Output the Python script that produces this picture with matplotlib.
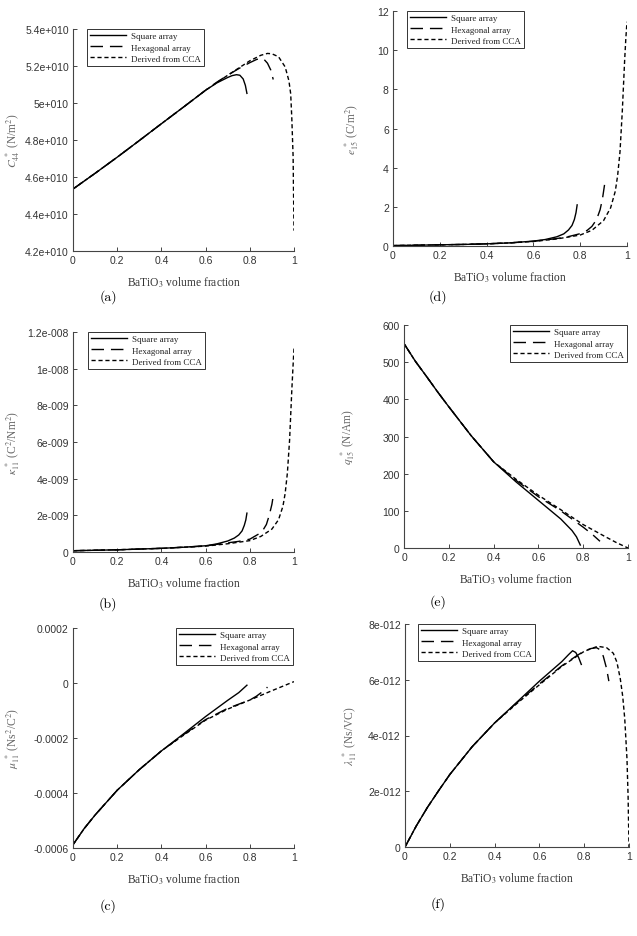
import matplotlib
matplotlib.use("Agg")
import matplotlib.pyplot as plt

plt.rcParams['mathtext.fontset'] = 'stix'

W, H = 637, 937

x_ticks = [0, 0.2, 0.4, 0.6, 0.8, 1]
x_ticklabels = ['0', '0.2', '0.4', '0.6', '0.8', '1']
series_names = ['Square array', 'Hexagonal array', 'Derived from CCA']

# (a) C44*, in units of 1e10 N/m^2
a_sq_x = [0, 0.1, 0.2, 0.3, 0.4, 0.5, 0.6, 0.65, 0.7, 0.72, 0.74, 0.755, 0.77, 0.78, 0.787]
a_sq_y = [4.535, 4.62, 4.707, 4.797, 4.888, 4.978, 5.069, 5.108, 5.138, 5.148, 5.153, 5.15, 5.13, 5.095, 5.052]
a_hx_x = [0, 0.1, 0.2, 0.3, 0.4, 0.5, 0.6, 0.65, 0.7, 0.75, 0.8, 0.83, 0.85, 0.865, 0.88, 0.895, 0.906]
a_hx_y = [4.535, 4.62, 4.707, 4.797, 4.888, 4.978, 5.069, 5.112, 5.15, 5.186, 5.218, 5.235, 5.242, 5.235, 5.215, 5.178, 5.127]
a_cc_x = [0, 0.1, 0.2, 0.3, 0.4, 0.5, 0.6, 0.7, 0.8, 0.85, 0.88, 0.9, 0.93, 0.96, 0.977, 0.985, 0.99, 0.996, 1.0]
a_cc_y = [4.535, 4.62, 4.707, 4.797, 4.888, 4.978, 5.069, 5.15, 5.228, 5.258, 5.268, 5.266, 5.25, 5.195, 5.12, 5.05, 4.92, 4.71, 4.31]
a_yticks = [4.2, 4.4, 4.6, 4.8, 5.0, 5.2, 5.4]
a_yticklabels = ['4.2e+010', '4.4e+010', '4.6e+010', '4.8e+010', '5e+010', '5.2e+010', '5.4e+010']

# (d) e15*, C/m^2
d_sq_x = [0, 0.1, 0.2, 0.3, 0.4, 0.5, 0.6, 0.65, 0.7, 0.73, 0.75, 0.765, 0.775, 0.782, 0.787]
d_sq_y = [0.02, 0.04, 0.06, 0.08, 0.11, 0.16, 0.25, 0.33, 0.47, 0.62, 0.82, 1.05, 1.35, 1.7, 2.1]
d_hx_x = [0, 0.1, 0.2, 0.3, 0.4, 0.5, 0.6, 0.7, 0.75, 0.8, 0.83, 0.85, 0.87, 0.885, 0.895, 0.905]
d_hx_y = [0.02, 0.04, 0.06, 0.08, 0.11, 0.16, 0.24, 0.38, 0.48, 0.63, 0.8, 1.0, 1.35, 1.85, 2.4, 3.2]
d_cc_x = [0, 0.1, 0.2, 0.3, 0.4, 0.5, 0.6, 0.7, 0.8, 0.85, 0.9, 0.93, 0.95, 0.96, 0.97, 0.98, 0.99, 0.995, 1.0]
d_cc_y = [0.02, 0.04, 0.06, 0.08, 0.11, 0.16, 0.23, 0.36, 0.56, 0.8, 1.3, 1.95, 2.8, 3.6, 4.8, 6.9, 9.5, 10.6, 11.45]
d_yticks = [0, 2, 4, 6, 8, 10, 12]
d_yticklabels = ['0', '2', '4', '6', '8', '10', '12']

# (b) kappa11*, in units of 1e-9 C^2/Nm^2
b_sq_x = [0, 0.2, 0.4, 0.5, 0.6, 0.65, 0.7, 0.73, 0.75, 0.765, 0.775, 0.782, 0.787]
b_sq_y = [0.07, 0.12, 0.2, 0.26, 0.34, 0.44, 0.6, 0.76, 0.93, 1.15, 1.45, 1.75, 2.12]
b_hx_x = [0, 0.2, 0.4, 0.5, 0.6, 0.7, 0.75, 0.8, 0.84, 0.86, 0.875, 0.888, 0.9, 0.908]
b_hx_y = [0.07, 0.12, 0.2, 0.26, 0.33, 0.5, 0.58, 0.7, 0.98, 1.2, 1.5, 2.0, 2.6, 3.2]
b_cc_x = [0, 0.2, 0.4, 0.5, 0.6, 0.7, 0.8, 0.85, 0.9, 0.93, 0.95, 0.96, 0.97, 0.98, 0.99, 0.995, 1.0]
b_cc_y = [0.07, 0.12, 0.2, 0.26, 0.32, 0.45, 0.62, 0.85, 1.25, 1.76, 2.5, 3.2, 4.3, 6.1, 8.8, 10.0, 11.1]
b_yticks = [0, 2, 4, 6, 8, 10, 12]
b_yticklabels = ['0', '2e-009', '4e-009', '6e-009', '8e-009', '1e-008', '1.2e-008']

# (e) q15*, N/Am
e_sq_x = [0, 0.05, 0.1, 0.15, 0.2, 0.3, 0.4, 0.5, 0.6, 0.7, 0.75, 0.77, 0.787]
e_sq_y = [550, 503, 462, 420, 380, 302, 232, 178, 128, 78, 47, 30, 8]
e_hx_x = [0, 0.05, 0.1, 0.15, 0.2, 0.3, 0.4, 0.5, 0.6, 0.7, 0.8, 0.84, 0.875]
e_hx_y = [550, 503, 462, 420, 380, 302, 232, 182, 138, 100, 56, 37, 18]
e_cc_x = [0, 0.05, 0.1, 0.15, 0.2, 0.3, 0.4, 0.5, 0.6, 0.7, 0.8, 0.9, 0.95, 1.0]
e_cc_y = [550, 503, 462, 420, 380, 302, 232, 185, 142, 103, 63, 30, 14, 0]
e_yticks = [0, 100, 200, 300, 400, 500, 600]
e_yticklabels = ['0', '100', '200', '300', '400', '500', '600']

# (c) mu11*, in units of 1e-4 Ns^2/C^2
c_sq_x = [0, 0.05, 0.1, 0.2, 0.3, 0.4, 0.5, 0.6, 0.7, 0.75, 0.787]
c_sq_y = [-5.88, -5.3, -4.8, -3.9, -3.15, -2.47, -1.85, -1.22, -0.63, -0.35, -0.08]
c_hx_x = [0, 0.05, 0.1, 0.2, 0.3, 0.4, 0.5, 0.6, 0.7, 0.8, 0.83, 0.86, 0.88]
c_hx_y = [-5.88, -5.3, -4.8, -3.9, -3.15, -2.47, -1.88, -1.33, -0.92, -0.62, -0.48, -0.3, -0.15]
c_cc_x = [0, 0.05, 0.1, 0.2, 0.3, 0.4, 0.5, 0.6, 0.7, 0.8, 0.9, 1.0]
c_cc_y = [-5.88, -5.3, -4.8, -3.9, -3.15, -2.47, -1.9, -1.35, -0.95, -0.62, -0.28, 0.05]
c_yticks = [-6, -4, -2, 0, 2]
c_yticklabels = ['-0.0006', '-0.0004', '-0.0002', '0', '0.0002']

# (f) lambda11*, in units of 1e-12 Ns/VC
f_sq_x = [0, 0.05, 0.1, 0.15, 0.2, 0.3, 0.4, 0.5, 0.6, 0.7, 0.73, 0.748, 0.762, 0.775, 0.787]
f_sq_y = [0, 0.75, 1.42, 2.02, 2.6, 3.6, 4.45, 5.2, 5.95, 6.65, 6.9, 7.04, 6.98, 6.8, 6.55]
f_hx_x = [0, 0.05, 0.1, 0.15, 0.2, 0.3, 0.4, 0.5, 0.6, 0.7, 0.77, 0.8, 0.83, 0.855, 0.87, 0.885, 0.9, 0.91]
f_hx_y = [0, 0.75, 1.42, 2.02, 2.6, 3.6, 4.45, 5.18, 5.85, 6.5, 6.88, 7.03, 7.12, 7.15, 7.08, 6.85, 6.4, 5.95]
f_cc_x = [0, 0.05, 0.1, 0.15, 0.2, 0.3, 0.4, 0.5, 0.6, 0.7, 0.8, 0.86, 0.9, 0.93, 0.946, 0.961, 0.972, 0.981, 0.991, 0.996, 1.0]
f_cc_y = [0, 0.75, 1.42, 2.02, 2.6, 3.6, 4.45, 5.15, 5.82, 6.48, 7.02, 7.2, 7.15, 6.95, 6.63, 6.04, 5.4, 4.6, 3.16, 1.8, 0]
f_yticks = [0, 2, 4, 6, 8]
f_yticklabels = ['0', '2e-012', '4e-012', '6e-012', '8e-012']

# panel layout in pixels: left, right, top, bottom
panels = [
    dict(box=(73, 294, 30, 252), ylim=(4.2, 5.4), yt=a_yticks, ytl=a_yticklabels,
         data=[(a_sq_x, a_sq_y), (a_hx_x, a_hx_y), (a_cc_x, a_cc_y)],
         ylabel=r'$C_{\mathit{44}}^{\ *}$ (N/m$^2$)', ylx=13,
         leg=('upper left', 87, 30), tag='(a)', tagpos=(108, 297)),
    dict(box=(393, 627, 12, 247), ylim=(0, 12), yt=d_yticks, ytl=d_yticklabels,
         data=[(d_sq_x, d_sq_y), (d_hx_x, d_hx_y), (d_cc_x, d_cc_y)],
         ylabel=r'$e_{\mathit{15}}^{\ *}$ (C/m$^2$)', ylx=352,
         leg=('upper left', 407, 12), tag='(d)', tagpos=(438, 297)),
    dict(box=(73, 294, 333, 553), ylim=(0, 12), yt=b_yticks, ytl=b_yticklabels,
         data=[(b_sq_x, b_sq_y), (b_hx_x, b_hx_y), (b_cc_x, b_cc_y)],
         ylabel=r'$\kappa_{\mathit{11}}^{\ *}$ (C$^2$/Nm$^2$)', ylx=13,
         leg=('upper left', 88, 333), tag='(b)', tagpos=(108, 604)),
    dict(box=(404, 628, 326, 549), ylim=(0, 600), yt=e_yticks, ytl=e_yticklabels,
         data=[(e_sq_x, e_sq_y), (e_hx_x, e_hx_y), (e_cc_x, e_cc_y)],
         ylabel=r'$q_{\mathit{15}}^{\ *}$ (N/Am)', ylx=348,
         leg=('upper right', 627, 326), tag='(e)', tagpos=(438, 602)),
    dict(box=(73, 294, 629, 849), ylim=(-6, 2), yt=c_yticks, ytl=c_yticklabels,
         data=[(c_sq_x, c_sq_y), (c_hx_x, c_hx_y), (c_cc_x, c_cc_y)],
         ylabel=r'$\mu_{\mathit{11}}^{\ *}$ (Ns$^2$/C$^2$)', ylx=13,
         leg=('upper right', 293, 629), tag='(c)', tagpos=(108, 906)),
    dict(box=(405, 629, 625, 848), ylim=(0, 8), yt=f_yticks, ytl=f_yticklabels,
         data=[(f_sq_x, f_sq_y), (f_hx_x, f_hx_y), (f_cc_x, f_cc_y)],
         ylabel=r'$\lambda_{\mathit{11}}^{\ *}$ (Ns/VC)', ylx=350,
         leg=('upper left', 418, 625), tag='(f)', tagpos=(438, 904)),
]

styles = [dict(ls='-', lw=1.0),
          dict(ls=(0, (9, 5)), lw=1.0),
          dict(ls=(0, (3, 2)), lw=1.0)]

fig = plt.figure(figsize=(W / 100, H / 100), dpi=100)

for p in panels:
    l, r, t, b = p['box']
    ax = fig.add_axes([l / W, 1 - b / H, (r - l) / W, (b - t) / H])
    for (xs, ys), st, name in zip(p['data'], styles, series_names):
        ax.plot(xs, ys, color='black', label=name, **st)
    ax.set_xlim(0, 1)
    ax.set_ylim(*p['ylim'])
    ax.set_xticks(x_ticks)
    ax.set_xticklabels(x_ticklabels)
    ax.set_yticks(p['yt'])
    ax.set_yticklabels(p['ytl'])
    for s in ('top', 'right'):
        ax.spines[s].set_visible(False)
    for s in ('left', 'bottom'):
        ax.spines[s].set_color('#444444')
        ax.spines[s].set_linewidth(0.8)
    ax.tick_params(direction='in', length=3, width=0.7, color='#444444',
                   labelsize=7.5, labelcolor='#333333', pad=3)
    for lab in ax.get_xticklabels() + ax.get_yticklabels():
        lab.set_family('Liberation Sans')

    ax.set_xlabel(r'BaTiO$_3$ volume fraction', family='Liberation Serif',
                  fontsize=8.3, color='#333333', va='center')
    ax.xaxis.set_label_coords(0.5, -31 / (b - t))
    ax.set_ylabel(p['ylabel'], family='Liberation Serif', fontsize=8.3,
                  color='#666666', va='center')
    ax.yaxis.set_label_coords(-(l - p['ylx']) / (r - l), 0.5)

    loc, lx, ly = p['leg']
    leg = ax.legend(loc=loc, bbox_to_anchor=(lx / W, 1 - ly / H),
                    bbox_transform=fig.transFigure, borderaxespad=0,
                    fancybox=False, framealpha=1, edgecolor='#333333',
                    prop={'family': 'Liberation Serif', 'size': 6.5},
                    handlelength=4, handletextpad=0.5, labelspacing=0.3,
                    borderpad=0.35)
    leg.get_frame().set_linewidth(0.7)
    for txt in leg.get_texts():
        txt.set_color('#222222')

    tx, ty = p['tagpos']
    fig.text(tx / W, 1 - ty / H, p['tag'], family='cmr10', fontsize=10,
             ha='center', va='center')

fig.savefig('out.png', dpi=100)
